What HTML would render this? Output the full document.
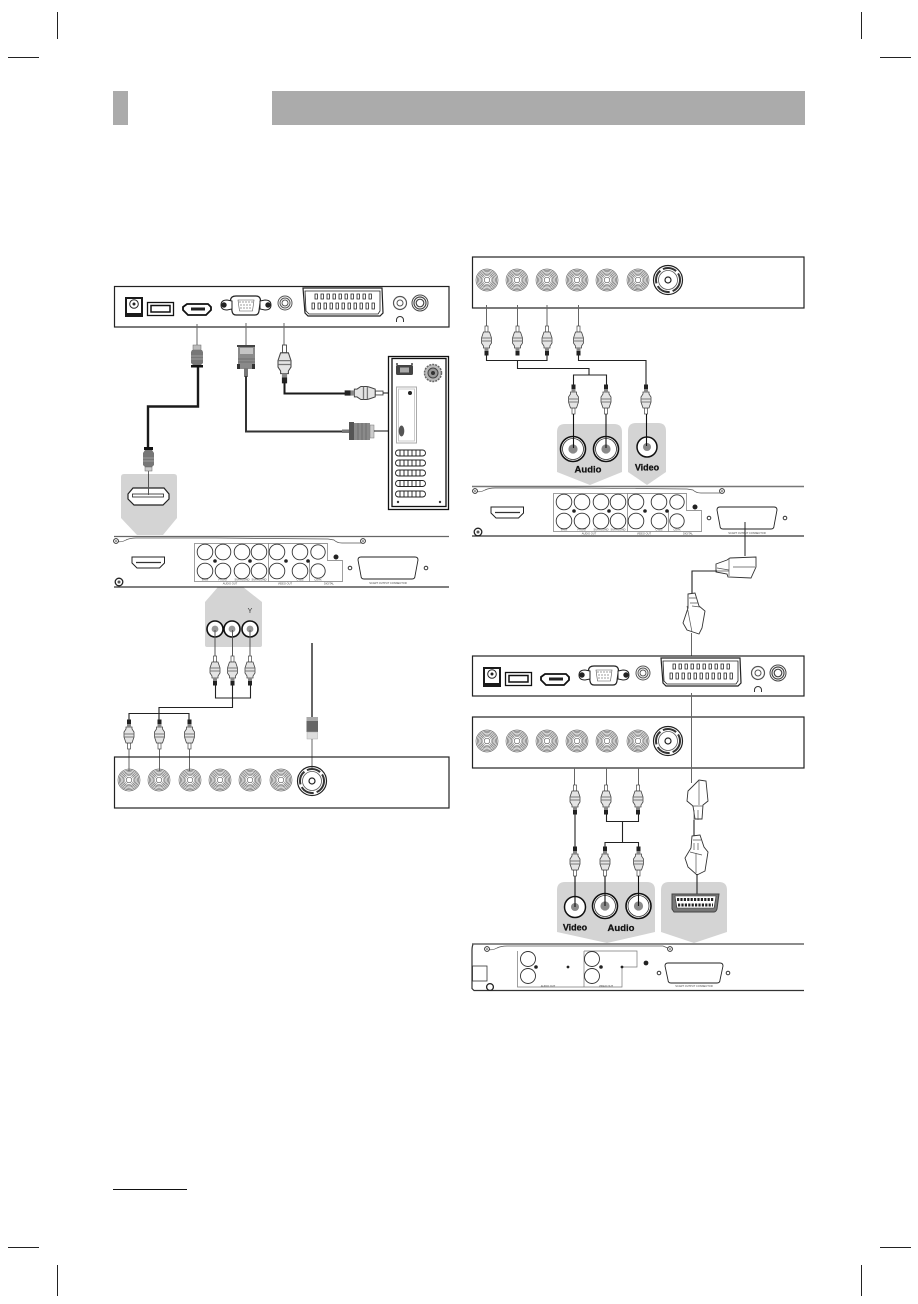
<!DOCTYPE html>
<html><head><meta charset="utf-8"><style>html,body{margin:0;padding:0;background:#fff}svg{display:block}text{font-family:"Liberation Sans",sans-serif}</style></head><body>
<svg xmlns="http://www.w3.org/2000/svg" width="918" height="1304" viewBox="0 0 918 1304">
<defs>
<g id="jack" fill="none" stroke="#666" stroke-width=".65"><circle r="11"/><circle r="9.700"/><circle r="8.400"/><circle r="7.100"/><circle r="5.800"/><circle r="4.500" stroke="#888"/><circle r="2.800" stroke="#555"/></g>
<g id="bnc" fill="none"><circle r="14.500" stroke="#222" stroke-width="1.200"/><circle r="12" stroke="#333" stroke-width="2" stroke-dasharray="14 3"/><circle r="9.500" stroke="#555" stroke-width=".8"/><circle r="3" stroke="#222" stroke-width="1.200"/></g>
<g id="rca"><rect x="-1.500" y="0" width="3" height="6" fill="#fff" stroke="#444" stroke-width=".7"/><path d="M-3 6h6l1 3 1 3v5l-2 3v2h-6v-2l-2-3v-5l1-3z" fill="#e4e4e4" stroke="#444" stroke-width=".8"/><path d="M-4.800 12h9.600M-4.800 15h9.600" stroke="#777" stroke-width="1"/><rect x="-2" y="22" width="4" height="3" fill="#888"/><rect x="-2" y="25" width="4" height="4.500" fill="#222"/></g>
<g id="pjack"><circle r="12.500" fill="#fff" stroke="#111" stroke-width="1.600"/><circle r="10.500" fill="#fff" stroke="#333" stroke-width=".8"/><circle r="4.600" fill="#8a8a8a"/></g>
<g id="smjack"><circle r="8" fill="#fff" stroke="#111" stroke-width="1.600"/><circle r="3.400" fill="#999"/></g>
<g id="scrw"><circle r="2.400" fill="#fff" stroke="#333" stroke-width="1"/><circle r=".8" fill="#333"/></g>

<g id="tvtop">
 <rect x="125" y="297" width="18" height="20" fill="#1a1a1a"/><rect x="127" y="299" width="14" height="14" fill="#fff"/><circle cx="134" cy="304" r="4.300" fill="#fff" stroke="#222"/><circle cx="134" cy="304" r="1.500" fill="#222"/>
 <rect x="147.500" y="302.500" width="26" height="13" fill="#fff" stroke="#111" stroke-width="1.300"/><rect x="151" y="305.500" width="19" height="6.500" fill="#fff" stroke="#111" stroke-width="1.500"/>
 <path d="M187 304h21l3 3v3l-5 5h-18l-5-5v-3z" fill="#fff" stroke="#111" stroke-width="1.800"/><rect x="191" y="307.500" width="14" height="3" fill="#222"/>
 <path d="M236 296h20q4 0 4.500 4l-1.500 11q-.5 4-4 4h-19q-3.500 0-4-4l-1.500-11q.5-4 5.500-4z" fill="#fff" stroke="#222" stroke-width="1.200"/>
 <path d="M238 300h16l-1.500 11h-13z" fill="none" stroke="#555" stroke-width=".6"/>
 <g fill="#555"><circle cx="240" cy="302" r=".6"/><circle cx="243" cy="302" r=".6"/><circle cx="246" cy="302" r=".6"/><circle cx="249" cy="302" r=".6"/><circle cx="252" cy="302" r=".6"/><circle cx="241" cy="305" r=".6"/><circle cx="244" cy="305" r=".6"/><circle cx="247" cy="305" r=".6"/><circle cx="250" cy="305" r=".6"/><circle cx="241" cy="308" r=".6"/><circle cx="244" cy="308" r=".6"/><circle cx="247" cy="308" r=".6"/><circle cx="250" cy="308" r=".6"/></g>
 <path d="M232 301l-5-1q-6 0-6 5t6 5l5-1zM260 301l5-1q6 0 6 5t-6 5l-5-1z" fill="#fff" stroke="#222"/><circle cx="224" cy="305" r="2.700" fill="#222"/><circle cx="268" cy="305" r="2.700" fill="#222"/>
 <circle cx="285" cy="303" r="7" fill="#fff" stroke="#555" stroke-width="1"/><circle cx="285" cy="303" r="5" fill="none" stroke="#555" stroke-width="1"/><circle cx="285" cy="303" r="3" fill="none" stroke="#555" stroke-width="1"/>
 <path d="M303 288h79l1 25-3 3h-72l-3-3z" fill="#fff" stroke="#222" stroke-width="1.200"/><path d="M305 291h75v20l-2 3h-69l-3-3z" fill="none" stroke="#222" stroke-width=".8"/>
 <g fill="none" stroke="#222" stroke-width=".8"><path d="M315 294h2.400v5h-2.400zM321 294h2.400v5h-2.400zM327 294h2.400v5h-2.400zM333 294h2.400v5h-2.400zM339 294h2.400v5h-2.400zM345 294h2.400v5h-2.400zM351 294h2.400v5h-2.400zM357 294h2.400v5h-2.400zM363 294h2.400v5h-2.400zM369 294h2.400v5h-2.400z"/><path d="M312 303h2.400v6h-2.400zM318 303h2.400v6h-2.400zM324 303h2.400v6h-2.400zM330 303h2.400v6h-2.400zM336 303h2.400v6h-2.400zM342 303h2.400v6h-2.400zM348 303h2.400v6h-2.400zM354 303h2.400v6h-2.400zM360 303h2.400v6h-2.400zM366 303h2.400v6h-2.400zM372 303h2.400v6h-2.400z"/></g>
 <circle cx="400" cy="303" r="6.500" fill="#fff" stroke="#555" stroke-width="1.200"/><circle cx="400" cy="303" r="3" fill="#fff" stroke="#555" stroke-width="1"/>
 <path d="M396.500 322v-2a3.500 3.500 0 0 1 7 0v2" fill="none" stroke="#333"/>
 <circle cx="420" cy="303" r="8" fill="#fff" stroke="#444" stroke-width="1"/><circle cx="420" cy="303" r="6" fill="none" stroke="#444" stroke-width="1.200"/><circle cx="420" cy="303" r="3.800" fill="none" stroke="#444" stroke-width="1.200"/>
</g>

<g id="dvdport">
 <path d="M132 557h32.500v6l-5 5h-22.500l-5-5z" fill="#fff" stroke="#222" stroke-width="1"/><path d="M136 562.500h25" stroke="#333" stroke-width="1.300"/>
 <circle cx="119" cy="582" r="3.800" fill="#fff" stroke="#222" stroke-width="1.300"/><circle cx="119" cy="582" r="1.500" fill="#555"/>
 <path d="M116 541q5 2 10-1 4-2 10-2h80l112 1 6 1q3 3 8 3h20" fill="none" stroke="#555" stroke-width=".7"/>
 <use href="#scrw" x="116" y="541"/><use href="#scrw" x="363" y="541"/>
 <rect x="194.500" y="543.500" width="74" height="38" fill="none" stroke="#777" stroke-width=".7"/>
 <path d="M268.500 543.500h59v17h15v21h-74" fill="none" stroke="#777" stroke-width=".7"/><path d="M309.500 560.500v21" stroke="#777" stroke-width=".7"/>
 <g fill="#fff" stroke="#333" stroke-width=".9"><circle cx="205" cy="552" r="7.800"/><circle cx="223" cy="552" r="7.800"/><circle cx="242" cy="552" r="7.800"/><circle cx="259" cy="552" r="7.800"/><circle cx="205" cy="571" r="7.800"/><circle cx="223" cy="571" r="7.800"/><circle cx="242" cy="571" r="7.800"/><circle cx="259" cy="571" r="7.800"/><circle cx="277" cy="552" r="7.800"/><circle cx="300" cy="552" r="7.800"/><circle cx="318" cy="552" r="7.200"/><circle cx="277" cy="571" r="7.800"/><circle cx="300" cy="571" r="7.800"/><circle cx="318" cy="571" r="7.200"/></g>
 <g fill="#222"><circle cx="215" cy="561" r="1.800"/><circle cx="250" cy="561" r="1.800"/><circle cx="286" cy="561" r="1.800"/><circle cx="308" cy="561" r="1.800"/><circle cx="336" cy="557" r="2.500"/></g>
 <g fill="none" stroke="#333"><circle cx="350" cy="568" r="1.800"/><circle cx="426" cy="568" r="1.800"/></g>
 <path d="M361 557h54q3 0 3 3l-3 16q0 3-3 3h-48q-3 0-3-3l-3-16q0-3 3-3z" fill="#fff" stroke="#222" stroke-width=".9"/>
 <g font-size="2.600" fill="#444" text-anchor="middle"><text x="205" y="580.500">MAIN</text><text x="223" y="580.500">FRONT</text><text x="242" y="580.500">SURROUND</text><text x="259" y="580.500">SURROUND</text><text x="230" y="584.500">AUDIO OUT</text><text x="285" y="584.500">VIDEO OUT</text><text x="300" y="580.500">CVBS</text><text x="318" y="580.500">COAX</text><text x="329" y="584.500">DIGITAL</text><text x="388" y="584">SCART OUTPUT CONNECTOR</text></g>
</g>
</defs>

<!-- header and marks -->
<rect x="113" y="91" width="15" height="34" fill="#ababab"/><rect x="272" y="91" width="533" height="34" fill="#ababab"/>
<g stroke="#222" stroke-width="1"><path d="M57.500 12v27M8 57.500h31M861.500 12v27M880 57.500h31M8 1247.500h31M57.500 1265v31M880 1247.500h31M861.500 1265v31"/></g>
<path d="M113 1189.500h74" stroke="#111" stroke-width="1"/>

<!-- grey shapes -->
<g fill="#d4d4d4">
 <path d="M124 474h50q3 0 3 3v41l-14 17h-26l-16-17v-41q0-3 3-3z"/>
 <path d="M218 587h25l19 15v43q0 2-2 2h-53q-2 0-2-2v-43z"/>
 <path d="M565 424h49q8 0 8 8v40l-32 13-33-13v-40q0-8 8-8z"/>
 <path d="M636 423h22q8 0 8 8v41l-19 13-19-13v-41q0-8 8-8z"/>
 <path d="M565 882h82q8 0 8 8v42l-48 11-50-11v-42q0-8 8-8z"/>
 <path d="M669 882h50q8 0 8 8v42l-33 11-33-11v-42q0-8 8-8z"/>
</g>

<!-- TV top panel -->
<rect x="114.500" y="286.500" width="334.500" height="40.500" fill="#fff" stroke="#222" stroke-width="1.200"/>
<use href="#tvtop"/>

<!-- HDMI cable -->
<path d="M197 324v22M148.500 468v28" stroke="#666" stroke-width="1" fill="none"/>
<path d="M198 366v40.500h-50v42" fill="none" stroke="#1a1a1a" stroke-width="2.400"/>
<rect x="193" y="345" width="8" height="5" fill="#bbb" stroke="#666" stroke-width=".5"/><path d="M192 350h10l1 2v11l-2 2h-8l-2-2v-11z" fill="#777"/><path d="M191 356h12M191 359h12" stroke="#aaa" stroke-width=".8"/><rect x="191" y="365" width="12" height="2.500" fill="#111"/>
<path d="M145 447h7v3l2 3v12l-2 2h-7l-2-2v-12l2-3z" fill="#777"/><rect x="144" y="447" width="9" height="3" fill="#111"/><path d="M143 458h11M143 461h11" stroke="#aaa" stroke-width=".8"/><rect x="145" y="467" width="7" height="4" fill="#ccc" stroke="#666" stroke-width=".5"/>
<path d="M128 494l5-6h31l5 6v5l-6 6h-29l-6-6z" fill="#fff" stroke="#222" stroke-width="1.200"/><rect x="132.500" y="494" width="31" height="3" fill="#fff" stroke="#222" stroke-width=".8"/>
<path d="M148.500 474v21" stroke="#555" stroke-width="1"/>

<!-- VGA cable -->
<path d="M246 323v22" stroke="#666" stroke-width="1"/>
<rect x="238" y="345" width="17" height="24" fill="#8a8a8a"/><rect x="237" y="345" width="18" height="2" fill="#444"/><rect x="240" y="348" width="13" height="6" fill="#c4c4c4"/><path d="M238 359h17M238 362h17" stroke="#666" stroke-width=".8"/><rect x="237" y="364" width="3" height="5" fill="#333"/><rect x="252" y="364" width="3" height="5" fill="#333"/><rect x="244" y="368" width="4" height="9" fill="#777"/>
<path d="M246 376v55.500h97" fill="none" stroke="#333" stroke-width="2"/>
<rect x="342" y="429.500" width="8" height="3.500" fill="#777"/><rect x="349" y="422" width="5" height="18" fill="#555"/><rect x="354" y="423" width="16" height="17" fill="#8a8a8a"/><path d="M358 423v17M362 423v17M366 423v17" stroke="#666" stroke-width=".8"/><rect x="370" y="425" width="4" height="13" fill="#ccc" stroke="#777" stroke-width=".5"/>
<path d="M374 431h28" stroke="#111" stroke-width="1"/>

<!-- Audio cable -->
<path d="M284 323v22" stroke="#666" stroke-width="1"/>
<g transform="translate(284.500 345) scale(1.300)"><use href="#rca"/></g>
<path d="M284.500 382v11.500h62" fill="none" stroke="#1a1a1a" stroke-width="2"/>
<g transform="translate(383 393) rotate(90) scale(1.300)"><use href="#rca"/></g>
<path d="M383 393h27" stroke="#111" stroke-width="1"/>

<!-- PC -->
<rect x="388.500" y="356.500" width="60" height="153" fill="#fff" stroke="#111" stroke-width="1.300"/>
<rect x="392" y="358.500" width="54" height="148" fill="none" stroke="#111" stroke-width="1.300"/>
<rect x="396" y="365" width="17" height="10" rx="1.500" fill="#444"/><rect x="400" y="367.500" width="9" height="5" fill="#aaa"/>
<circle cx="397" cy="364" r="1" fill="#444"/><circle cx="412" cy="364" r="1" fill="#444"/>
<circle cx="433" cy="373" r="8.500" fill="#bbb" stroke="#666" stroke-width="1.500" stroke-dasharray="2 1"/><circle cx="433" cy="373" r="5" fill="#999" stroke="#444"/><circle cx="433" cy="373" r="2" fill="#333"/>
<rect x="396.500" y="387" width="20" height="56" fill="#fff" stroke="#aaa" stroke-width="1"/><rect x="398.500" y="389" width="16" height="52" fill="none" stroke="#ccc"/>
<circle cx="410" cy="393" r="2" fill="#222"/>
<ellipse cx="401.500" cy="431" rx="2.800" ry="5.500" fill="#555"/>
<g fill="#fff" stroke="#222" stroke-width=".9"><rect x="395.500" y="450" width="30" height="6" rx="3"/><rect x="395.500" y="460" width="30" height="6" rx="3"/><rect x="395.500" y="470" width="30" height="6" rx="3"/><rect x="395.500" y="480.500" width="30" height="6" rx="3"/><rect x="395.500" y="491" width="30" height="6" rx="3"/></g>
<path d="M400 450v6M404 450v6M408 450v6M412 450v6M416 450v6M420 450v6M400 460v6M404 460v6M408 460v6M412 460v6M416 460v6M420 460v6M400 470v6M404 470v6M408 470v6M412 470v6M416 470v6M420 470v6M400 480.500v6M404 480.500v6M408 480.500v6M412 480.500v6M416 480.500v6M420 480.500v6M400 491v6M404 491v6M408 491v6M412 491v6M416 491v6M420 491v6" stroke="#222" stroke-width=".9"/>
<circle cx="398" cy="502" r="1.200" fill="#333"/><circle cx="440" cy="502" r="1.200" fill="#333"/>

<!-- DVD 1 -->
<path d="M114 536.500h335" stroke="#666" stroke-width="1.200"/><path d="M114 587h335" stroke="#333" stroke-width="1.200"/>
<use href="#dvdport"/>

<!-- component jacks left -->
<text x="250" y="613" font-size="7" text-anchor="middle" fill="#333">Y</text>
<use href="#smjack" x="215" y="629"/><use href="#smjack" x="232" y="629"/><use href="#smjack" x="250" y="629"/>
<path d="M215 630v27M232.500 630v27M250 630v27" stroke="#555" stroke-width="1"/>
<use href="#rca" x="215" y="656"/><use href="#rca" x="232.500" y="656"/><use href="#rca" x="250" y="656"/>
<path d="M215.500 685v13h35v-13M232.500 685v22.500h-73.500v13M129 720v-6.500h60v6.500" fill="none" stroke="#222" stroke-width="1.100"/>
<g transform="translate(129 749) scale(1 -1)"><use href="#rca"/></g><g transform="translate(159.500 749) scale(1 -1)"><use href="#rca"/></g><g transform="translate(189.500 749) scale(1 -1)"><use href="#rca"/></g>
<path d="M129 749v22M159.500 749v22M189.500 749v22" stroke="#666"/>

<!-- antenna -->
<path d="M312 643v75" stroke="#666" stroke-width="2"/>
<rect x="306.500" y="717" width="11.500" height="5" fill="#aaa"/><rect x="306.500" y="721" width="11.500" height="11" fill="#666"/><rect x="307" y="732" width="10.500" height="7" fill="#ddd" stroke="#aaa" stroke-width=".5"/>
<path d="M312 739v30" stroke="#666"/>

<!-- bottom left panel -->
<rect x="114.500" y="757" width="334.500" height="51" fill="none" stroke="#222" stroke-width="1.200"/>
<use href="#jack" x="129" y="780"/><use href="#jack" x="159" y="780"/><use href="#jack" x="190" y="780"/><use href="#jack" x="220" y="780"/><use href="#jack" x="250" y="780"/><use href="#jack" x="281" y="780"/><use href="#bnc" x="312" y="781"/>

<!-- right upper panel -->
<rect x="472.500" y="257" width="331.500" height="51" fill="none" stroke="#222" stroke-width="1.200"/>
<use href="#jack" x="487" y="280"/><use href="#jack" x="517" y="280"/><use href="#jack" x="547" y="280"/><use href="#jack" x="577" y="280"/><use href="#jack" x="607" y="280"/><use href="#jack" x="638" y="280"/><use href="#bnc" x="668" y="280"/>
<path d="M486.500 305v22M517.500 305v22M547 305v22M578.500 305v22" stroke="#666"/>
<use href="#rca" x="486.500" y="326"/><use href="#rca" x="517.500" y="326"/><use href="#rca" x="547" y="326"/><use href="#rca" x="578.500" y="326"/>
<path d="M486.500 355v5.500h60.500v-5.500M517.500 360v8.500h71.500v6.500M573.500 385v-10h33v10M578.500 355v5.500h67.500v24.500" fill="none" stroke="#222" stroke-width="1.100"/>
<g transform="translate(573.500 414) scale(1 -1)"><use href="#rca"/></g><g transform="translate(606 414) scale(1 -1)"><use href="#rca"/></g><g transform="translate(646 414) scale(1 -1)"><use href="#rca"/></g>
<use href="#pjack" x="573" y="449"/><use href="#pjack" x="606" y="449"/>
<circle cx="647" cy="447" r="10" fill="#fff" stroke="#111" stroke-width="1.500"/><circle cx="647" cy="447" r="4" fill="#8a8a8a"/>
<path d="M573.500 414v34M606 414v34M646.500 414v32" stroke="#111" stroke-width="1.100"/>
<text x="588" y="472.500" font-size="9.500" font-weight="bold" stroke="#111" stroke-width=".25" text-anchor="middle" fill="#111">Audio</text>
<text x="647" y="470.500" font-size="9" font-weight="bold" stroke="#111" stroke-width=".25" text-anchor="middle" fill="#111">Video</text>

<!-- DVD 2 -->
<path d="M472 486.500h332" stroke="#777" stroke-width="1.500"/><path d="M472 536h332" stroke="#333" stroke-width="1.200"/>
<use href="#dvdport" x="359" y="-50"/>
<path d="M745 522v34" stroke="#222" stroke-width="1"/>

<!-- scart plug horizontal -->
<path d="M716 564l11-4 3-2 26-1v10l-5 11-23-1-1-3-11-2z" fill="#fff" stroke="#333" stroke-width=".9"/><path d="M717 568l12 2M717 571l12 0M729 558v18M733 567l22 0" stroke="#555" stroke-width=".7" fill="none"/>
<path d="M717 571h-25v23" fill="none" stroke="#222" stroke-width="1.100"/>
<path d="M688 594l7-1 4 13 6 5-3 17-3 6-12-4-4-7 5-15z" fill="#fff" stroke="#333" stroke-width=".9"/><path d="M689 598l8 0M690 603l8 0M687 606l5 26M692 606l8 1" stroke="#555" stroke-width=".7" fill="none"/>
<path d="M691.500 633v23" stroke="#666"/>

<!-- TV panel 2 -->
<rect x="472.500" y="656" width="331.500" height="40" fill="#fff" stroke="#222" stroke-width="1.200"/>
<use href="#tvtop" x="358" y="370"/>

<!-- right lower panel -->
<rect x="472.500" y="717" width="331.500" height="51" fill="#fff" stroke="#222" stroke-width="1.200"/>
<use href="#jack" x="487" y="741"/><use href="#jack" x="517" y="741"/><use href="#jack" x="547" y="741"/><use href="#jack" x="577" y="741"/><use href="#jack" x="607" y="741"/><use href="#jack" x="638" y="741"/><use href="#bnc" x="668" y="741"/>
<path d="M691.500 693v90" stroke="#666"/>
<path d="M574.500 768v18M606.500 768v18M638.500 768v18" stroke="#666"/>
<use href="#rca" x="575" y="785"/><use href="#rca" x="606" y="785"/><use href="#rca" x="638" y="785"/>
<path d="M575 814v35M606.500 814v7.500h32v-7.500M622.500 821v21.500M605 848v-5.500h33.500v5.500" fill="none" stroke="#222" stroke-width="1.100"/>
<g transform="translate(575 876) scale(1 -1)"><use href="#rca"/></g><g transform="translate(605 876) scale(1 -1)"><use href="#rca"/></g><g transform="translate(638.500 876) scale(1 -1)"><use href="#rca"/></g>
<circle cx="575" cy="907" r="10.500" fill="#fff" stroke="#111" stroke-width="1.500"/><circle cx="575" cy="907" r="4" fill="#8a8a8a"/>
<use href="#pjack" x="605" y="906"/><use href="#pjack" x="638.500" y="906"/>
<path d="M575 876v31M605 876v30M638.500 876v30" stroke="#111" stroke-width="1.100"/>
<text x="575" y="930.500" font-size="9" font-weight="bold" stroke="#111" stroke-width=".25" text-anchor="middle" fill="#111">Video</text>
<text x="621" y="931" font-size="9.500" font-weight="bold" stroke="#111" stroke-width=".25" text-anchor="middle" fill="#111">Audio</text>

<!-- scart plugs lower -->
<path d="M688 791l11-11 7 1 2 20-5 4-1 14h-7l-2-13-6-5z" fill="#fff" stroke="#333" stroke-width=".9"/><path d="M699 781v24M692 806h11M694 810v10M698 810v10" stroke="#555" stroke-width=".7" fill="none"/>
<path d="M694 820v16" stroke="#222" stroke-width="1.100"/>
<path d="M692 836l8-1 4 12 4 5-3 19-8 4-9-8-3-9 6-10z" fill="#fff" stroke="#333" stroke-width=".9"/><path d="M693 840l8 0M694 843l0 7M698 843l0 7M690 852l12 3M696 853v20" stroke="#555" stroke-width=".7" fill="none"/>
<path d="M697 874v22" stroke="#222" stroke-width="1.100"/>
<path d="M672 894h47l-2 15q-1 3-3 3h-40l-2-3z" fill="#777" stroke="#444"/>
<path d="M675 896h41l-2 12h-37z" fill="#fff" stroke="#333" stroke-width=".6"/>
<path d="M677 899.500h37M678 905h35" stroke="#222" stroke-width="3" stroke-dasharray="2.200 1.200"/>

<!-- DVD 3 -->
<path d="M472 944h332" stroke="#666" stroke-width="1.500"/>
<path d="M804 990.500h-330l-2-2v-38q0-4 1-6" fill="none" stroke="#333" stroke-width="1.200"/>
<rect x="472.500" y="966" width="14.500" height="15" fill="none" stroke="#333" stroke-width=".8"/>
<circle cx="490" cy="987" r="3.400" fill="#fff" stroke="#222" stroke-width="1.300"/>
<path d="M487 949q5 2 10-1 4-2 10-2h156l7 3" fill="none" stroke="#555" stroke-width=".7"/>
<use href="#scrw" x="487" y="949"/><use href="#scrw" x="670" y="949"/>
<path d="M517.500 951v36h66.500v-36M584 951h53v16h-15v20h-38" fill="none" stroke="#777" stroke-width=".7"/>
<g fill="#fff" stroke="#333" stroke-width=".9"><circle cx="528" cy="959" r="7.500"/><circle cx="528" cy="976" r="7.500"/><circle cx="592" cy="959" r="7.500"/><circle cx="592" cy="976" r="7.500"/></g>
<g fill="#222"><circle cx="536" cy="967" r="1.800"/><circle cx="568" cy="967" r="1.400"/><circle cx="601" cy="967" r="1.800"/><circle cx="622" cy="967" r="1.400"/><circle cx="646" cy="963" r="2.400"/></g>
<g fill="none" stroke="#333"><circle cx="659" cy="973" r="1.800"/><circle cx="728" cy="973" r="1.800"/></g>
<path d="M668 963h52q3 0 3 3l-3 14q0 3-3 3h-46q-3 0-3-3l-3-14q0-3 3-3z" fill="#fff" stroke="#222" stroke-width=".9"/>
<g font-size="2.600" fill="#444" text-anchor="middle"><text x="548" y="987">AUDIO OUT</text><text x="606" y="987">VIDEO OUT</text><text x="694" y="987">SCART OUTPUT CONNECTOR</text></g>
</svg>
</body></html>
